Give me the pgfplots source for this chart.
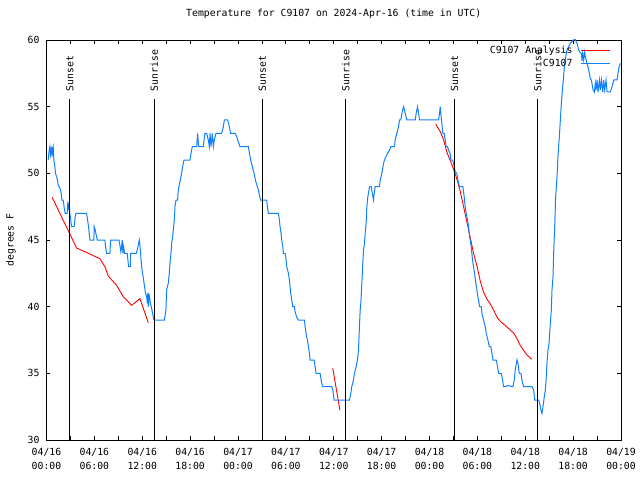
\documentclass[border=0pt]{standalone}
\usepackage{fontspec}
\setmainfont{DejaVu Sans Mono}
\usepackage{pgfplots}
\pgfplotsset{compat=1.18}
\definecolor{obsblue}{RGB}{16,128,255}
\begin{document}
\fontsize{9.8}{14}\selectfont
\begin{tikzpicture}[font=\fontsize{9.8}{14}\selectfont]
\useasboundingbox (0,0) rectangle (640pt,480pt);
\begin{axis}[
  at={(46.5pt,40pt)}, anchor=south west,
  scale only axis, width=574.5pt, height=400pt,
  xmin=0, xmax=72, ymin=30, ymax=60,
  x filter/.expression={x+0.17},
  unbounded coords=jump,
  xtick={0,6,...,72},
  minor xtick={3,9,...,69},
  xticklabels={{04/16\\00:00},{04/16\\06:00},{04/16\\12:00},{04/16\\18:00},{04/17\\00:00},{04/17\\06:00},{04/17\\12:00},{04/17\\18:00},{04/18\\00:00},{04/18\\06:00},{04/18\\12:00},{04/18\\18:00},{04/19\\00:00}},
  xticklabel style={align=center, font=\fontsize{9.8}{14}\selectfont, yshift=-5pt},
  ytick={30,35,...,60},
  yticklabel style={xshift=-3.5pt},
  tick align=inside,
  major tick length=4pt, minor tick length=4pt,
  every tick/.style={black, line width=0.8pt},
  axis line style={line width=0.9pt},
  /pgf/number format/assume math mode=true,
  title={Temperature for C9107 on 2024-Apr-16 (time in UTC)},
  title style={at={(axis description cs:0.5,1.0435)}, anchor=base},
  ylabel={degrees F},
  every axis y label/.style={at={(axis description cs:-0.0618,0.5)}, rotate=90, anchor=center},
  legend plot pos=right,
  legend cell align=right,
  legend image code/.code={\draw[#1] (0pt,0pt) -- (29pt,0pt);},
  legend style={at={(axis description cs:0.982,0.987)}, anchor=north east, draw=none, fill=none, inner sep=0pt, column sep=7pt, row sep=1.5pt, nodes={inner sep=1pt}},
]
\addplot[red, line width=0.9pt] coordinates {
(0.54,48.2) (3.60,44.4) (5.27,43.95) (6.52,43.6) (7.15,43.0) (7.57,42.3) (8.61,41.6) (9.45,40.75) (10.5,40.1) (11.54,40.6) (12.59,38.8)
(20,nan)
(35.70,35.4) (36.60,32.25)
(40,nan)
(48.6,53.7) (49.2,53.1) (49.6,52.5) (50.0,51.6) (50.4,51.0) (50.85,50.3) (51.3,49.5) (51.7,48.6) (52.1,47.5) (52.5,46.4) (52.9,45.3) (53.35,44.0) (53.8,43.0) (54.2,41.9) (54.6,41.1) (55.0,40.6) (55.45,40.2) (55.9,39.7) (56.3,39.2) (56.7,38.9) (57.5,38.5) (58.4,38.0) (58.8,37.6) (59.2,37.1) (59.6,36.75) (60.0,36.4) (60.65,36.05)
};
\addlegendentry{C9107 Analysis}
\addplot[obsblue, line width=1pt] coordinates {
(0.04,51) (0.17,51.75) (0.25,52) (0.33,51.4) (0.46,52) (0.54,51.25) (0.58,51.75) (0.67,52) (0.75,51) (0.88,50.5) (0.96,50) (1.09,49.75) (1.21,49.5) (1.30,49.1) (1.42,49) (1.59,48.75) (1.67,48.5) (1.76,48) (1.92,48) (2.01,47.6) (2.09,47.25) (2.17,47) (2.42,47) (2.51,47.9) (2.59,47.25) (2.68,47.75) (2.76,47) (2.84,46.6) (2.97,46) (3.30,46) (3.43,46.75) (3.51,47) (4.85,47) (4.98,46.5) (5.10,46) (5.18,45.5) (5.27,45) (5.77,45) (5.81,46) (5.94,45.75) (6.02,45.5) (6.19,45) (7.15,45) (7.23,44.5) (7.36,44) (7.78,44) (7.86,45) (8.91,45) (9.03,44.6) (9.16,44.1) (9.24,44.5) (9.32,45) (9.41,44) (9.49,44.5) (9.62,44) (9.95,44) (10.03,43.5) (10.12,43) (10.33,43) (10.37,44) (11.08,44) (11.21,44.25) (11.33,44.6) (11.46,45) (11.54,44.6) (11.62,44) (11.75,43) (11.87,42.5) (12.00,42) (12.12,41.5) (12.25,41) (12.38,40.75) (12.46,40.25) (12.50,41) (12.59,40) (12.67,40.9) (12.75,40.75) (12.84,40.25) (12.96,40) (13.09,39.6) (13.21,39.25) (13.30,39)
(14.60,39) (14.80,39.75) (14.88,41.25) (15.09,41.75) (15.22,42.5) (15.30,43.25) (15.43,44) (15.51,44.75) (15.64,45.25) (15.72,45.75) (15.85,46.5) (15.93,47.5) (16.06,48) (16.26,48) (16.35,48.75) (16.56,49.4) (16.77,50) (16.89,50.5) (17.06,51) (17.81,51) (17.94,51.5) (18.10,52) (18.65,52) (18.77,53) (18.90,52) (19.48,52) (19.57,52.5) (19.69,53) (19.90,53) (20.11,52.5) (20.24,52) (20.32,53) (20.45,52) (20.61,53) (20.74,52) (20.86,52.5) (21.07,53) (21.78,53) (21.99,53.5) (22.12,54) (22.54,54) (22.75,53.5) (22.91,53) (23.46,53) (23.67,52.75) (23.79,52.5) (24.08,52) (25.13,52) (25.26,51.5) (25.42,51) (25.63,50.5) (25.84,50) (26.05,49.4) (26.26,49) (26.39,48.75) (26.51,48.4) (26.65,48)
(27.43,48) (27.51,47.5) (27.64,47) (28.89,47) (29.02,46.5) (29.10,46) (29.23,45.5) (29.31,45) (29.44,44.5) (29.52,44) (29.73,44) (29.86,43.5) (29.94,43) (30.15,42.5) (30.27,42) (30.36,41.5) (30.44,41) (30.57,40.5) (30.69,40) (30.90,40) (30.99,39.6) (31.19,39.2) (31.40,39) (32.16,39) (32.24,38.5) (32.36,38) (32.53,37.5) (32.66,37) (32.78,36.5) (32.87,36) (33.37,36) (33.49,35.5) (33.62,35) (34.12,35) (34.25,34.5) (34.41,34) (35.58,34) (35.71,33.75) (35.88,33) (37.80,33) (37.97,33.5) (38.09,34) (38.30,34.5) (38.43,35) (38.64,35.5) (38.80,36) (38.93,36.7) (39.05,38.5)
(39.14,39.75) (39.22,40.25) (39.35,41.75) (39.47,43.25) (39.56,44.25) (39.68,44.75) (39.77,45.5) (39.89,46.25) (39.98,47.5) (40.10,48.25) (40.18,48.5) (40.31,49) (40.52,49) (40.69,48.4) (40.81,48) (40.90,48.5) (41.02,49) (41.56,49) (41.65,49.5) (41.77,49.75) (41.94,50.25) (42.07,50.75) (42.19,51) (42.36,51.25) (42.57,51.5) (42.82,51.75) (42.99,52) (43.45,52) (43.53,52.5) (43.74,53) (43.95,53.5) (44.07,54) (44.24,54) (44.37,54.5) (44.57,55) (44.70,54.75) (44.78,54.5) (44.99,54) (46.04,54) (46.16,54.5) (46.33,55) (46.46,54.5) (46.58,54) (48.96,54) (49.09,54.5) (49.17,55)
(49.25,54.5) (49.38,53.75) (49.50,53) (49.67,53) (49.80,52.5) (49.92,52) (50.09,52) (50.21,51.75) (50.42,51.5) (50.51,51) (50.72,51) (50.84,50.75) (51.05,50.1) (51.26,50) (51.38,49.5) (51.59,49) (52.01,49) (52.18,48.25) (52.30,47.5) (52.43,47) (52.60,46.5) (52.72,46) (52.85,45.25) (52.93,45) (53.06,44.5) (53.22,43.5) (53.35,43) (53.48,42.5) (53.64,41.75) (53.77,41.25) (53.89,40.75) (53.98,40.5) (54.10,40) (54.31,40) (54.40,39.5) (54.60,39) (54.81,38.5) (54.94,38) (55.15,37.5) (55.32,37) (55.52,37) (55.65,36.5) (55.78,36) (56.19,36) (56.36,35.5) (56.49,35) (56.82,35) (56.99,34.5) (57.11,34) (57.45,34) (57.62,34.1) (58.28,34) (58.45,34.5) (58.58,35.25) (58.79,36) (58.91,35.75) (59.08,35) (59.29,35) (59.41,34.5) (59.62,34) (60.67,34) (60.88,33.75) (61.01,33) (61.50,33) (61.63,32.75) (61.80,32.25) (61.93,32)
(62.05,32.5) (62.22,33.25) (62.35,33.75) (62.47,34.75) (62.55,35.75) (62.68,36.75) (62.81,37.25) (62.97,38.75) (63.10,39.75) (63.18,41.25) (63.31,42.25) (63.39,44) (63.52,46) (63.64,48.25) (63.81,49.75) (63.93,51.25) (64.10,52.75) (64.23,54) (64.35,55.25) (64.48,56.25) (64.60,57) (64.77,58.25) (64.90,58.75) (65.06,59.25) (65.27,59.5) (65.48,59.75) (65.69,59.9) (65.90,60) (66.03,60.25) (66.11,60) (66.32,59.75) (66.53,59.25) (66.65,59.1) (66.86,59) (66.95,58.4) (67.03,59) (67.15,58.5) (67.28,59.1) (67.36,58.75) (67.57,58.25) (67.78,57.75) (67.99,57.1) (68.12,57) (68.33,56.25) (68.49,56.1) (68.62,56.75) (68.70,56.25) (68.83,57) (68.95,56.1) (69.12,57) (69.24,56.25) (69.37,57) (69.54,56.1) (69.66,57) (69.79,56.25) (69.96,57) (70.08,56.1) (70.50,56.1) (70.71,56.5) (70.92,57) (71.34,57) (71.46,57.5) (71.59,58) (71.75,58.25)
};
\addlegendentry{C9107}
\addplot[black, line width=0.9pt, forget plot] coordinates {(2.76,30) (2.76,55.6)} node[pos=1, rotate=90, anchor=west, inner sep=0pt, inner xsep=7pt] {Sunset};
\addplot[black, line width=0.9pt, forget plot] coordinates {(13.34,30) (13.34,55.6)} node[pos=1, rotate=90, anchor=west, inner sep=0pt, inner xsep=7pt] {Sunrise};
\addplot[black, line width=0.9pt, forget plot] coordinates {(26.89,30) (26.89,55.6)} node[pos=1, rotate=90, anchor=west, inner sep=0pt, inner xsep=7pt] {Sunset};
\addplot[black, line width=0.9pt, forget plot] coordinates {(37.34,30) (37.34,55.6)} node[pos=1, rotate=90, anchor=west, inner sep=0pt, inner xsep=7pt] {Sunrise};
\addplot[black, line width=0.9pt, forget plot] coordinates {(50.97,30) (50.97,55.6)} node[pos=1, rotate=90, anchor=west, inner sep=0pt, inner xsep=7pt] {Sunset};
\addplot[black, line width=0.9pt, forget plot] coordinates {(61.38,30) (61.38,55.6)} node[pos=1, rotate=90, anchor=west, inner sep=0pt, inner xsep=7pt] {Sunrise};
\end{axis}
\end{tikzpicture}
\end{document}
